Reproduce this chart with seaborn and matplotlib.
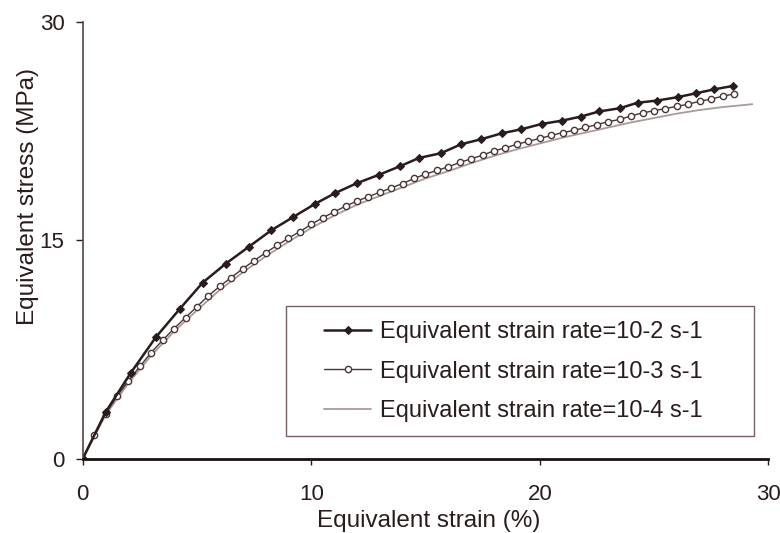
import numpy as np
import pandas as pd
import seaborn as sns
import matplotlib.pyplot as plt
from matplotlib.patches import Rectangle

# strain rate 10-2 s-1 (filled diamonds)
strain_1 = [0, 1.0, 2.1, 3.2, 4.25, 5.25, 6.26, 7.26, 8.26, 9.21, 10.16, 11.04, 11.99,
            12.96, 13.87, 14.72, 15.67, 16.56, 17.43, 18.34, 19.2, 20.08, 20.98, 21.8,
            22.6, 23.5, 24.28, 25.15, 26.03, 26.85, 27.64, 28.45]
stress_1 = [0, 3.2, 5.9, 8.35, 10.3, 12.1, 13.4, 14.55, 15.7, 16.6, 17.5, 18.24, 18.92,
            19.5, 20.08, 20.66, 20.98, 21.6, 21.94, 22.35, 22.63, 22.99, 23.22, 23.5,
            23.85, 24.07, 24.45, 24.6, 24.83, 25.1, 25.37, 25.6]

# strain rate 10-3 s-1 (open circles)
strain_2 = [0, 0.5, 1, 1.5, 2, 2.5, 3, 3.5, 4, 4.5, 5, 5.5, 6, 6.5, 7, 7.5, 8, 8.5, 9,
            9.5, 10, 10.5, 11, 11.5, 12, 12.5, 13, 13.5, 14, 14.5, 15, 15.5, 16, 16.5,
            17, 17.5, 18, 18.5, 19, 19.5, 20, 20.5, 21, 21.5, 22, 22.5, 23, 23.5, 24,
            24.5, 25, 25.5, 26, 26.5, 27, 27.5, 28, 28.5]
stress_2 = [0, 1.65, 3.1, 4.3, 5.35, 6.35, 7.3, 8.15, 8.95, 9.7, 10.45, 11.2, 11.85,
            12.45, 13.05, 13.6, 14.15, 14.65, 15.15, 15.6, 16.1, 16.55, 16.95, 17.35,
            17.7, 18.0, 18.3, 18.6, 18.9, 19.25, 19.55, 19.8, 20.05, 20.35, 20.6, 20.85,
            21.15, 21.35, 21.6, 21.8, 22.0, 22.2, 22.4, 22.55, 22.75, 22.95, 23.15, 23.3,
            23.55, 23.75, 23.9, 24.05, 24.2, 24.35, 24.55, 24.7, 24.9, 25.05]

# strain rate 10-4 s-1 (thin grey line)
strain_3 = [0, 1, 2, 3, 4, 5, 6, 7, 8, 9, 10, 11, 12, 13, 14, 15, 16, 17, 18, 19, 20,
            21, 22, 23, 24, 25, 26, 27, 28, 29, 29.3]
stress_3 = [0, 3.0, 5.2, 7.1, 8.75, 10.2, 11.6, 12.8, 13.9, 14.9, 15.85, 16.7, 17.45,
            18.05, 18.65, 19.25, 19.75, 20.3, 20.8, 21.25, 21.65, 22.05, 22.4, 22.75,
            23.1, 23.4, 23.7, 23.95, 24.15, 24.3, 24.35]

labels = ["Equivalent strain rate=10-2 s-1",
          "Equivalent strain rate=10-3 s-1",
          "Equivalent strain rate=10-4 s-1"]

ink = "#2a1c1c"

sns.set_style("white")
plt.rcParams['font.family'] = ['Liberation Sans', 'DejaVu Sans']

fig = plt.figure(figsize=(7.8, 5.33), dpi=100)
ax = fig.add_axes([0.106, 0.139, 0.879, 0.82])

sns.lineplot(x=strain_3, y=stress_3, ax=ax, color="#a89a9a", linewidth=1.3,
             sort=False, estimator=None, label=labels[2])
sns.lineplot(x=strain_2, y=stress_2, ax=ax, color="#4a3434", linewidth=1.0,
             marker="o", markersize=4.5, markerfacecolor="white", markeredgecolor="#4a3434",
             markeredgewidth=1.0, sort=False, estimator=None, label=labels[1])
sns.lineplot(x=strain_1, y=stress_1, ax=ax, color=ink, linewidth=1.8,
             marker="D", markersize=4.5, markerfacecolor=ink, markeredgecolor=ink,
             sort=False, estimator=None, label=labels[0])

ax.set_xlim(0, 30)
ax.set_ylim(0, 30)
ax.set_xticks([0, 10, 20, 30])
ax.set_yticks([0, 15, 30])

for side in ["top", "right"]:
    ax.spines[side].set_visible(False)
ax.spines["bottom"].set_linewidth(2.0)
ax.spines["bottom"].set_color("#1a1010")
ax.spines["left"].set_linewidth(1.2)
ax.spines["left"].set_color("#5a4444")

ax.tick_params(axis="x", direction="out", length=4, width=1.0, pad=14,
               labelsize=16, colors=ink)
ax.tick_params(axis="y", direction="out", length=5, width=1.0, pad=8,
               labelsize=16, colors=ink)
ax.tick_params(axis="both", bottom=True, left=True)

ax.set_xlabel("Equivalent strain (%)", fontsize=17.5, color=ink)
ax.set_ylabel("Equivalent stress (MPa)", fontsize=17.5, color=ink)
ax.xaxis.set_label_coords(0.505, -0.118)
ax.yaxis.set_label_coords(-0.063, 0.6)

# legend box drawn separately: the original has a wide left margin
ax.add_patch(Rectangle((0.297, 0.053), 0.682, 0.297, transform=ax.transAxes,
                       facecolor="white", edgecolor="#7a6060", linewidth=1.0,
                       zorder=4))
handles, labs = ax.get_legend_handles_labels()
order = [labs.index(l) for l in labels]
leg = ax.legend([handles[i] for i in order], [labs[i] for i in order],
                loc="center left", bbox_to_anchor=(0.352, 0.2),
                fontsize=17, frameon=False,
                handlelength=2.0, handletextpad=0.35, borderpad=0,
                labelspacing=0.75, borderaxespad=0)
leg.set_zorder(5)
for t in leg.get_texts():
    t.set_color(ink)

fig.savefig("out.png", dpi=100, facecolor="white")
